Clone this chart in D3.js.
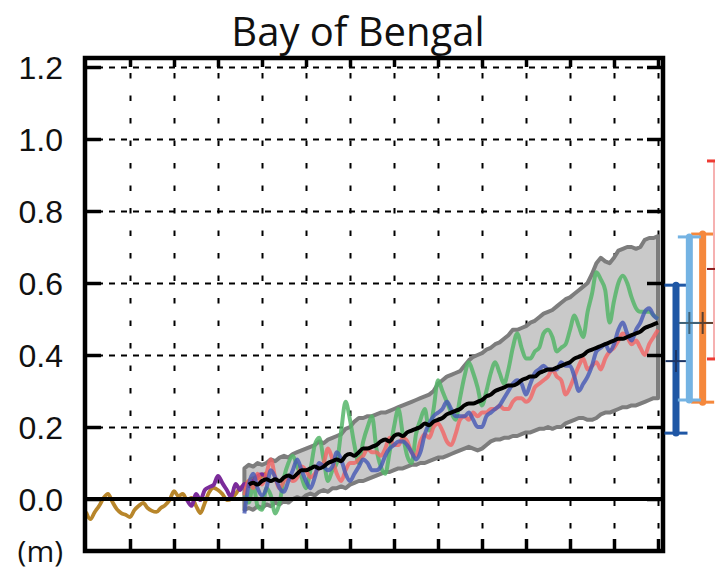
<!DOCTYPE html>
<html>
<head>
<meta charset="utf-8">
<script src="https://cdn.jsdelivr.net/npm/d3@7"></script>
<style>
  body { margin: 0; background: #fff; }
  svg { display: block; font-family: "Open Sans", sans-serif; }
  .grid-x line { stroke: #000; stroke-width: 2; stroke-dasharray: 5.5 17; }
  .grid-y line { stroke: #000; stroke-width: 2; stroke-dasharray: 6 6; }
  .grid-x path, .grid-y path { display: none; }
  .frame-axis path { display: none; }
  .frame-axis line { stroke: #000; stroke-width: 3.5; }
  .frame-axis text { font-size: 32px; fill: #111; }
</style>
</head>
<body>
<div id="chart"></div>
<script>
const title = "Bay of Bengal";
const unitLabel = "(m)";

// x / y ticks
const yearTicks = [1980, 1990, 2000, 2010, 2020, 2030, 2040, 2050, 2060, 2070, 2080, 2090, 2100];
const levelTicks = [0.0, 0.2, 0.4, 0.6, 0.8, 1.0, 1.2];

// tide gauge reconstruction (brown), 1970-2011
const tideYears = d3.range(1970, 2012);
const tideGauge = [
  -0.036, -0.056, -0.036, -0.019, 0.003, 0.014, -0.008, -0.028, -0.039, -0.044,
  -0.050, -0.031, -0.019, -0.011, -0.025, -0.033, -0.036, -0.025, -0.017, -0.003,
  0.022, 0.008, 0.014, -0.003, 0.003, -0.019, -0.039, -0.011, 0.019, 0.031,
  0.025, 0.014, -0.003, 0.000, 0.014, 0.031, 0.036, 0.050, 0.058, 0.058,
  0.064, 0.072
];

// satellite altimetry (purple), 1993-2011
const altYears = d3.range(1993, 2012);
const altimetry = [
  -0.003, -0.019, 0.014, -0.003, 0.025, 0.033, 0.039, 0.064, 0.044, 0.025,
  0.006, 0.042, 0.025, 0.042, 0.036, 0.050, 0.064, 0.069, 0.058
];

// model projections, 2006-2100
const modelYears = d3.range(2006, 2101);
const modelGreen = [
  0.02, -0.01, 0.04, -0.02, -0.03, 0.03, 0.01, -0.04, -0.01, 0.06,
  0.10, 0.12, 0.09, 0.06, 0.03, 0.08, 0.15, 0.17, 0.11, 0.05,
  0.08, 0.10, 0.19, 0.27, 0.22, 0.15, 0.10, 0.16, 0.20, 0.23,
  0.14, 0.09, 0.07, 0.13, 0.20, 0.25, 0.18, 0.12, 0.10, 0.18,
  0.22, 0.25, 0.19, 0.25, 0.33, 0.30, 0.27, 0.24, 0.22, 0.28,
  0.34, 0.38, 0.35, 0.31, 0.26, 0.30, 0.35, 0.38, 0.35, 0.32,
  0.36, 0.42, 0.46, 0.42, 0.39, 0.39, 0.41, 0.42, 0.46, 0.47,
  0.45, 0.41, 0.42, 0.43, 0.47, 0.51, 0.48, 0.45, 0.52, 0.57,
  0.63, 0.61, 0.58, 0.49, 0.55, 0.60, 0.62, 0.60, 0.56, 0.53,
  0.52, 0.52, 0.52, 0.51, 0.50
];
const modelBlue = [
  -0.04, 0.04, 0.07, 0.03, 0.01, 0.03, 0.08, 0.06, 0.03, 0.02,
  0.05, 0.08, 0.11, 0.08, 0.05, 0.03, 0.06, 0.10, 0.09, 0.08,
  0.09, 0.13, 0.11, 0.07, 0.05, 0.07, 0.09, 0.11, 0.10, 0.08,
  0.08, 0.09, 0.12, 0.14, 0.15, 0.16, 0.16, 0.15, 0.13, 0.11,
  0.13, 0.18, 0.21, 0.23, 0.24, 0.25, 0.27, 0.25, 0.23, 0.23,
  0.23, 0.24, 0.22, 0.20, 0.20, 0.23, 0.24, 0.25, 0.26, 0.28,
  0.30, 0.32, 0.33, 0.32, 0.29, 0.32, 0.35, 0.36, 0.37, 0.36,
  0.36, 0.36, 0.38, 0.37, 0.37, 0.34, 0.30, 0.32, 0.34, 0.37,
  0.41, 0.42, 0.43, 0.41, 0.43, 0.47, 0.49, 0.46, 0.44, 0.47,
  0.49, 0.52, 0.53, 0.51, 0.50
];
const modelRed = [
  0.01, 0.05, 0.03, 0.07, 0.04, 0.07, 0.11, 0.06, 0.03, 0.05,
  0.06, 0.05, 0.06, 0.09, 0.08, 0.06, 0.07, 0.09, 0.10, 0.14,
  0.11, 0.07, 0.05, 0.08, 0.10, 0.10, 0.11, 0.12, 0.14, 0.13,
  0.13, 0.12, 0.14, 0.17, 0.15, 0.15, 0.17, 0.16, 0.13, 0.12,
  0.16, 0.18, 0.17, 0.20, 0.21, 0.19, 0.16, 0.15, 0.18, 0.22,
  0.23, 0.22, 0.24, 0.23, 0.24, 0.24, 0.25, 0.25, 0.26, 0.25,
  0.25, 0.27, 0.28, 0.28, 0.27, 0.28, 0.31, 0.32, 0.33, 0.34,
  0.36, 0.34, 0.33, 0.29, 0.31, 0.34, 0.37, 0.39, 0.36, 0.37,
  0.38, 0.36, 0.39, 0.41, 0.42, 0.44, 0.46, 0.45, 0.43, 0.44,
  0.42, 0.40, 0.43, 0.45, 0.47
];
const envUpper = [
  0.085, 0.095, 0.090, 0.100, 0.095, 0.100, 0.110, 0.105, 0.115, 0.120,
  0.115, 0.125, 0.130, 0.135, 0.140, 0.145, 0.150, 0.160, 0.155, 0.165,
  0.170, 0.175, 0.180, 0.195, 0.200, 0.215, 0.225, 0.225, 0.230, 0.230,
  0.235, 0.240, 0.240, 0.245, 0.250, 0.255, 0.260, 0.265, 0.270, 0.275,
  0.280, 0.285, 0.290, 0.300, 0.320, 0.330, 0.340, 0.345, 0.350, 0.355,
  0.370, 0.385, 0.395, 0.400, 0.405, 0.415, 0.420, 0.430, 0.435, 0.445,
  0.455, 0.470, 0.470, 0.475, 0.480, 0.490, 0.495, 0.505, 0.515, 0.520,
  0.525, 0.535, 0.545, 0.555, 0.560, 0.570, 0.580, 0.590, 0.600, 0.625,
  0.655, 0.670, 0.660, 0.655, 0.670, 0.690, 0.695, 0.700, 0.700, 0.695,
  0.700, 0.720, 0.725, 0.725, 0.730
];
const envLower = [
  -0.030, -0.025, -0.030, -0.020, -0.025, -0.015, -0.020, -0.010, -0.015, -0.005,
  -0.010, 0.000, 0.005, 0.000, 0.010, 0.015, 0.010, 0.020, 0.025, 0.020,
  0.030, 0.030, 0.035, 0.030, 0.040, 0.045, 0.050, 0.050, 0.055, 0.060,
  0.065, 0.070, 0.075, 0.075, 0.080, 0.085, 0.085, 0.090, 0.095, 0.095,
  0.100, 0.100, 0.105, 0.110, 0.115, 0.115, 0.120, 0.125, 0.130, 0.135,
  0.140, 0.145, 0.140, 0.135, 0.140, 0.150, 0.160, 0.165, 0.165, 0.170,
  0.170, 0.175, 0.175, 0.180, 0.185, 0.185, 0.190, 0.195, 0.195, 0.200,
  0.195, 0.200, 0.200, 0.210, 0.215, 0.220, 0.225, 0.225, 0.220, 0.220,
  0.225, 0.235, 0.240, 0.240, 0.245, 0.250, 0.255, 0.255, 0.260, 0.260,
  0.265, 0.270, 0.275, 0.280, 0.280
];

// ensemble mean (black), 2007-2100
const meanYears = d3.range(2007, 2101);
const ensembleMean = [
  0.040, 0.045, 0.040, 0.050, 0.055, 0.050, 0.055, 0.050, 0.060, 0.065,
  0.060, 0.070, 0.080, 0.080, 0.085, 0.090, 0.085, 0.090, 0.100, 0.105,
  0.110, 0.105, 0.120, 0.125, 0.120, 0.130, 0.140, 0.140, 0.145, 0.150,
  0.160, 0.165, 0.160, 0.175, 0.180, 0.175, 0.185, 0.190, 0.195, 0.200,
  0.210, 0.205, 0.215, 0.220, 0.225, 0.235, 0.240, 0.245, 0.250, 0.260,
  0.265, 0.265, 0.270, 0.275, 0.285, 0.290, 0.300, 0.305, 0.310, 0.315,
  0.315, 0.320, 0.330, 0.335, 0.340, 0.340, 0.350, 0.355, 0.360, 0.360,
  0.365, 0.370, 0.375, 0.380, 0.390, 0.395, 0.400, 0.410, 0.415, 0.420,
  0.425, 0.430, 0.435, 0.440, 0.445, 0.445, 0.450, 0.455, 0.460, 0.465,
  0.475, 0.480, 0.485, 0.490
];

// 2100 ranges at the right of the panel
const rangeIds = ["r1", "r2", "r3", "r4"];
const rangeLow = [0.183, 0.275, 0.269, 0.389];
const rangeHigh = [0.594, 0.728, 0.736, 0.939];
const rangeMid = [0.383, 0.489, 0.489, 0.639];

const width = 715, height = 573;
const margin = { left: 85, right: 663, top: 58, bottom: 551 };

const svg = d3.select("#chart").append("svg")
  .attr("width", width)
  .attr("height", height);

const x = d3.scaleLinear().domain([1970, 2100]).range([86, 658]);
const y = d3.scaleLinear().domain([0, 1.2]).range([499, 67]);
const plotW = margin.right - margin.left;
const plotH = margin.bottom - margin.top;

// dashed grid
svg.append("g")
  .attr("class", "grid-x")
  .attr("transform", "translate(0," + margin.bottom + ")")
  .call(d3.axisBottom(x).tickValues(yearTicks).tickSize(-plotH).tickFormat(""));

svg.append("g")
  .attr("class", "grid-y")
  .attr("transform", "translate(" + margin.left + ",0)")
  .call(d3.axisLeft(y).tickValues(levelTicks.filter(d => d > 0)).tickSize(-plotW).tickFormat(""));

// model spread
const envelope = modelYears.map((yr, i) => [yr, envLower[i], envUpper[i]]);
svg.append("path")
  .datum(envelope)
  .attr("fill", "#c9c9c9")
  .attr("stroke", "#7d7d7d")
  .attr("stroke-width", 4)
  .attr("stroke-linejoin", "round")
  .attr("d", d3.area().x(d => x(d[0])).y0(d => y(d[1])).y1(d => y(d[2])));

const line = d3.line().curve(d3.curveMonotoneX).x(d => x(d[0])).y(d => y(d[1]));
const zip = (yrs, vals) => yrs.map((yr, i) => [yr, vals[i]]);

const series = [
  { yrs: tideYears, vals: tideGauge, color: "#b8862b", w: 3.8, op: 1 },
  { yrs: altYears, vals: altimetry, color: "#7b2c9a", w: 4, op: 1 },
  { yrs: modelYears, vals: modelGreen, color: "#55b568", w: 4, op: 0.85 },
  { yrs: modelYears, vals: modelRed, color: "#f26464", w: 4, op: 0.8 },
  { yrs: modelYears, vals: modelBlue, color: "#4557b5", w: 4, op: 0.8 }
];

svg.append("g")
  .selectAll("path")
  .data(series)
  .enter().append("path")
  .attr("fill", "none")
  .attr("stroke", d => d.color)
  .attr("stroke-width", d => d.w)
  .attr("stroke-opacity", d => d.op)
  .attr("stroke-linejoin", "round")
  .attr("d", d => line(zip(d.yrs, d.vals)));

// zero line
svg.append("line")
  .attr("x1", margin.left).attr("x2", margin.right)
  .attr("y1", y(0)).attr("y2", y(0))
  .attr("stroke", "#000").attr("stroke-width", 4);

svg.append("path")
  .datum(zip(meanYears, ensembleMean))
  .attr("fill", "none")
  .attr("stroke", "#000")
  .attr("stroke-width", 4)
  .attr("stroke-linejoin", "round")
  .attr("d", line);

// frame with inward ticks
svg.append("rect")
  .attr("x", margin.left).attr("y", margin.top)
  .attr("width", plotW).attr("height", plotH)
  .attr("fill", "none").attr("stroke", "#000").attr("stroke-width", 4.5);

svg.append("g")
  .attr("class", "frame-axis")
  .attr("transform", "translate(" + margin.left + ",0)")
  .call(d3.axisLeft(y).tickValues(levelTicks).tickSize(-16).tickPadding(22).tickFormat(d3.format(".1f")))
  .selectAll("text").attr("dy", "0.36em");

svg.append("g")
  .attr("class", "frame-axis")
  .attr("transform", "translate(" + margin.right + ",0)")
  .call(d3.axisRight(y).tickValues(levelTicks).tickSize(-16).tickFormat(""));

svg.append("g")
  .attr("class", "frame-axis")
  .attr("transform", "translate(0," + margin.top + ")")
  .call(d3.axisTop(x).tickValues(yearTicks).tickSize(-9).tickFormat(""));

svg.append("g")
  .attr("class", "frame-axis")
  .attr("transform", "translate(0," + margin.bottom + ")")
  .call(d3.axisBottom(x).tickValues(yearTicks).tickSize(-12).tickFormat(""));

svg.append("text")
  .attr("x", margin.left - 22)
  .attr("y", 551)
  .attr("dy", "0.36em")
  .attr("text-anchor", "end")
  .attr("font-size", 30)
  .attr("fill", "#111")
  .text(unitLabel);

svg.append("text")
  .attr("x", 358)
  .attr("y", 46)
  .attr("text-anchor", "middle")
  .attr("font-size", 40)
  .attr("fill", "#111")
  .text(title);

// likely ranges in 2100
const bx = d3.scalePoint().domain(rangeIds).range([676, 716]);
const barColor = ["#1f57a5", "#74b3e3", "#f5883c", "#f6b1b1"];
const capColor = ["#1f57a5", "#74b3e3", "#f5883c", "#ee3b33"];
const midColor = ["#1c3566", "#3f6278", "#5b4030", "#8c1c1c"];
const ranges = rangeIds.map((id, i) => ({ id, lo: rangeLow[i], hi: rangeHigh[i], mid: rangeMid[i], i }));
const drawOrder = [0, 2, 1, 3];

const bars = svg.append("g")
  .selectAll("g")
  .data(drawOrder.map(i => ranges[i]))
  .enter().append("g");

bars.append("line")
  .attr("x1", d => bx(d.id)).attr("x2", d => bx(d.id))
  .attr("y1", d => y(d.hi)).attr("y2", d => y(d.lo))
  .attr("stroke", d => barColor[d.i])
  .attr("stroke-width", d => d.i === 3 ? 6 : 7)
  .attr("stroke-linecap", d => d.i === 3 ? "butt" : "round");

bars.selectAll(".cap")
  .data(d => [d.hi, d.lo].map(v => ({ v, d })))
  .enter().append("line")
  .attr("class", "cap")
  .attr("x1", c => bx(c.d.id) - (c.d.i === 3 ? 9 : 11.5))
  .attr("x2", c => bx(c.d.id) + 11.5)
  .attr("y1", c => y(c.v)).attr("y2", c => y(c.v))
  .attr("stroke", c => capColor[c.d.i])
  .attr("stroke-width", 3);

bars.append("line")
  .attr("x1", d => bx(d.id) - (d.i === 3 ? 9 : 10.5))
  .attr("x2", d => bx(d.id) + 10.5)
  .attr("y1", d => y(d.mid)).attr("y2", d => y(d.mid))
  .attr("stroke", d => midColor[d.i])
  .attr("stroke-width", 2);

bars.filter(d => d.i !== 3).append("line")
  .attr("x1", d => bx(d.id)).attr("x2", d => bx(d.id))
  .attr("y1", d => y(d.mid) - 11).attr("y2", d => y(d.mid) + 11)
  .attr("stroke", d => midColor[d.i])
  .attr("stroke-width", 2);
</script>
</body>
</html>
